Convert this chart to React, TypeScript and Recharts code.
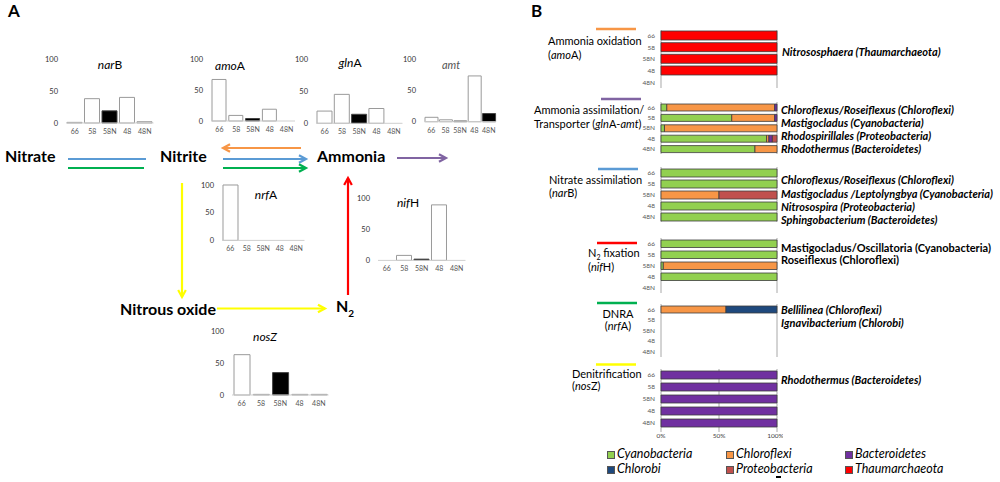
import React from 'react'
import { BarChart, Bar, XAxis, YAxis, CartesianGrid, Cell } from 'recharts'

const FONT = 'Lato, "Open Sans", sans-serif'

// sample sites
const samples = ['66', '58', '58N', '48', '48N']

// panel A: relative gene abundance per site
const narB = [1, 38, 19, 40, 2]
const amoA = [67, 9, 4, 19, 0]
const glnA = [19, 45, 14, 23, 0]
const amt = [7, 3, 1, 73, 13]
const nrfA = [100, 0, 0, 0, 0]
const nifH = [0, 8, 2, 89, 0]
const nosZ = [63, 1, 35, 1, 1]

// panel B: taxonomic composition (%), stacked left to right
const taxa = ['Cyanobacteria', 'Chloroflexi', 'Bacteroidetes', 'Chlorobi', 'Proteobacteria', 'Thaumarchaeota']
const taxaColors = ['#92D050', '#F79646', '#7030A0', '#1F497D', '#C0504D', '#FF0000']

const amoAThaum = [100, 100, 100, 100, 0]

const glnCyano = [5, 61, 3, 91, 81]
const glnChloro = [93, 37, 97, 2, 19]
const glnBactero = [2, 2, 0, 3, 0]
const glnProteo = [0, 0, 0, 4, 0]

const narCyano = [100, 100, 0, 100, 100]
const narChloro = [0, 0, 50, 0, 0]
const narProteo = [0, 0, 50, 0, 0]

const nifCyano = [100, 100, 2, 100, 0]
const nifChloro = [0, 0, 98, 0, 0]

const nrfChloro = [56, 0, 0, 0, 0]
const nrfChlorobi = [44, 0, 0, 0, 0]

const nosBactero = [100, 100, 100, 100, 100]

const zero = [0, 0, 0, 0, 0]

const makeRows = (cols: Record<string, number[]>) =>
  samples.map((s, i) => {
    const row: any = { sample: s }
    taxa.forEach((t) => { row[t] = (cols[t] || zero)[i] })
    return row
  })

const amoRows = makeRows({ Thaumarchaeota: amoAThaum })
const glnRows = makeRows({ Cyanobacteria: glnCyano, Chloroflexi: glnChloro, Bacteroidetes: glnBactero, Proteobacteria: glnProteo })
const narRows = makeRows({ Cyanobacteria: narCyano, Chloroflexi: narChloro, Proteobacteria: narProteo })
const nifRows = makeRows({ Cyanobacteria: nifCyano, Chloroflexi: nifChloro })
const nrfRows = makeRows({ Chloroflexi: nrfChloro, Chlorobi: nrfChlorobi })
const nosRows = makeRows({ Bacteroidetes: nosBactero })

const Txt = ({ x, y, size = 11, bold = false, italic = false, color = '#000', align = 'left', children }: any) => (
  <div
    style={{
      position: 'absolute',
      left: x,
      top: y,
      transform: `translate(${align === 'center' ? '-50%' : align === 'right' ? '-100%' : '0'}, -50%)`,
      fontSize: size,
      fontWeight: bold ? 700 : 400,
      fontStyle: italic ? 'italic' : 'normal',
      color,
      whiteSpace: 'nowrap',
      lineHeight: 1.1,
      fontFamily: FONT,
    }}
  >
    {children}
  </div>
)

const MiniChart = ({ values, dark, x0, x1, yTop, yBase, barSize }: any) => {
  const ml = 30, mt = 6, mb = 16, mr = 2
  const data = samples.map((s, i) => ({ sample: s, value: values[i] }))
  return (
    <div style={{ position: 'absolute', left: x0 - ml, top: yTop - mt }}>
      <BarChart
        width={ml + x1 - x0 + mr}
        height={mt + yBase - yTop + mb}
        data={data}
        margin={{ top: mt, right: mr, bottom: 0, left: 0 }}
        barCategoryGap={0}
      >
        <XAxis
          dataKey="sample"
          height={mb}
          interval={0}
          tickLine={false}
          tickMargin={0}
          axisLine={{ stroke: '#cfcfcf' }}
          tick={{ fontSize: 7, fill: '#555', fontFamily: FONT }}
        />
        <YAxis
          width={ml}
          domain={[0, 100]}
          ticks={[0, 50, 100]}
          axisLine={false}
          tickLine={false}
          tick={{ fontSize: 7.5, fill: '#333', fontFamily: FONT }}
        />
        <Bar dataKey="value" barSize={barSize} stroke="#9a9a9a" strokeWidth={1} isAnimationActive={false}>
          {data.map((d) => (
            <Cell key={d.sample} fill={dark.includes(d.sample) ? '#000' : '#fff'} stroke={dark.includes(d.sample) ? '#444' : '#9a9a9a'} />
          ))}
        </Bar>
      </BarChart>
    </div>
  )
}

const GroupChart = ({ rows, top, bottom, barSize, showAxis = false }: any) => {
  const yw = 22
  const xh = showAxis ? 14 : 0
  return (
    <div style={{ position: 'absolute', left: 661 - yw, top }}>
      <BarChart
        layout="vertical"
        width={yw + 116 + 6}
        height={bottom - top + xh}
        data={rows}
        margin={{ top: 0, right: 6, bottom: 0, left: 0 }}
        barCategoryGap={0}
      >
        <CartesianGrid horizontal={false} stroke="#a8a8a8" />
        <XAxis
          type="number"
          domain={[0, 100]}
          ticks={[0, 50, 100]}
          height={xh}
          axisLine={false}
          tickLine={showAxis ? { stroke: '#a8a8a8' } : false}
          tickSize={3}
          tickMargin={1}
          tick={showAxis ? { fontSize: 6.5, fill: '#444', fontFamily: FONT } : false}
          tickFormatter={(v: number) => `${v}%`}
        />
        <YAxis
          type="category"
          dataKey="sample"
          width={yw}
          interval={0}
          axisLine={false}
          tickLine={false}
          tickMargin={0}
          tick={{ fontSize: 6.5, fill: '#555', fontFamily: FONT }}
        />
        {taxa.map((t, i) => (
          <Bar
            key={t}
            dataKey={t}
            stackId="a"
            fill={taxaColors[i]}
            stroke="#3c3c3c"
            strokeWidth={0.8}
            barSize={barSize}
            isAnimationActive={false}
          />
        ))}
      </BarChart>
    </div>
  )
}

const Arrow = ({ x1, y1, x2, y2, color, head = true }: any) => {
  const ang = Math.atan2(y2 - y1, x2 - x1)
  const L = 8
  const a1 = ang + Math.PI - 0.5
  const a2 = ang + Math.PI + 0.5
  return (
    <g stroke={color} strokeWidth={2.2} fill="none">
      <line x1={x1} y1={y1} x2={x2} y2={y2} />
      {head && (
        <polyline
          points={`${x2 + L * Math.cos(a1)},${y2 + L * Math.sin(a1)} ${x2},${y2} ${x2 + L * Math.cos(a2)},${y2 + L * Math.sin(a2)}`}
        />
      )}
    </g>
  )
}

const App = () => {
  const legendPos = [
    [607, 454], [726, 454], [845, 454],
    [607, 469], [726, 469], [845, 469],
  ]
  const legendOrder = ['Cyanobacteria', 'Chloroflexi', 'Bacteroidetes', 'Chlorobi', 'Proteobacteria', 'Thaumarchaeota']
  return (
    <div style={{ position: 'fixed', left: 0, top: 0, width: 1000, height: 482, background: '#fff', overflow: 'hidden', fontFamily: FONT }}>
      <svg width={1000} height={482} style={{ position: 'absolute', left: 0, top: 0 }}>
        <Arrow x1={68} y1={159} x2={146} y2={159} color="#5B9BD5" head={false} />
        <Arrow x1={68} y1={168} x2={144} y2={168} color="#00B050" head={false} />
        <Arrow x1={301} y1={148} x2={223} y2={148} color="#F79646" />
        <Arrow x1={223} y1={159} x2={306} y2={159} color="#5B9BD5" />
        <Arrow x1={223} y1={168} x2={306} y2={168} color="#00B050" />
        <Arrow x1={397} y1={158} x2={446} y2={158} color="#8064A2" />
        <Arrow x1={182} y1={183} x2={182} y2={297} color="#FFFF00" />
        <Arrow x1={217} y1={308.5} x2={325} y2={308.5} color="#FFFF00" />
        <Arrow x1={348} y1={295} x2={348} y2={178} color="#FF0000" />
        {/* group markers in panel B */}
        <line x1={596} y1={29} x2={636} y2={29} stroke="#F79646" strokeWidth={2.5} />
        <line x1={601} y1={99} x2={641} y2={99} stroke="#8064A2" strokeWidth={2.5} />
        <line x1={598} y1={169} x2={638} y2={169} stroke="#5B9BD5" strokeWidth={2.5} />
        <line x1={597} y1={243} x2={637} y2={243} stroke="#FF0000" strokeWidth={2.5} />
        <line x1={597} y1={303} x2={637} y2={303} stroke="#00B050" strokeWidth={2.5} />
        <line x1={596} y1={364.5} x2={636} y2={364.5} stroke="#FFFF00" strokeWidth={2.5} />
      </svg>

      <Txt x={8} y={11} size={17} bold>A</Txt>
      <Txt x={531} y={11} size={17} bold>B</Txt>

      {/* panel A mini charts */}
      <MiniChart values={narB} dark={['58N']} x0={66} x1={153.5} yTop={58.7} yBase={122.7} barSize={15} />
      <MiniChart values={amoA} dark={['58N']} x0={210.5} x1={294.5} yTop={59} yBase={121} barSize={14} />
      <MiniChart values={glnA} dark={['58N']} x0={315.5} x1={402} yTop={59} yBase={123.3} barSize={15} />
      <MiniChart values={amt} dark={['58N', '48N']} x0={423.5} x1={495.5} yTop={59} yBase={121.7} barSize={13} />
      <MiniChart values={nrfA} dark={[]} x0={221.5} x1={304} yTop={185.3} yBase={240.7} barSize={15} />
      <MiniChart values={nifH} dark={['58N']} x0={378} x1={465.5} yTop={198.3} yBase={260.7} barSize={15} />
      <MiniChart values={nosZ} dark={['58N']} x0={231.5} x1={328} yTop={331} yBase={395} barSize={16} />

      <Txt x={110} y={65} size={12} align="center"><i>nar</i>B</Txt>
      <Txt x={230} y={66} size={12} align="center"><i>amo</i>A</Txt>
      <Txt x={350} y={63} size={12} align="center"><i>gln</i>A</Txt>
      <Txt x={451} y={65} size={11} align="center" color="#555"><i>amt</i></Txt>
      <Txt x={266} y={195} size={12} align="center"><i>nrf</i>A</Txt>
      <Txt x={408} y={203} size={12} align="center"><i>nif</i>H</Txt>
      <Txt x={265} y={337} size={12} align="center"><i>nosZ</i></Txt>

      <Txt x={5} y={156} size={16} bold>Nitrate</Txt>
      <Txt x={160} y={156} size={16} bold>Nitrite</Txt>
      <Txt x={317} y={156} size={16} bold>Ammonia</Txt>
      <Txt x={120} y={309} size={16} bold>Nitrous oxide</Txt>
      <Txt x={336} y={308} size={16} bold>N<sub style={{ fontSize: 10 }}>2</sub></Txt>

      {/* panel B group labels */}
      <Txt x={548} y={41} size={11}>Ammonia oxidation</Txt>
      <Txt x={548} y={54.5} size={11}>(<i>amo</i>A)</Txt>
      <Txt x={534} y={110} size={11}>Ammonia assimilation/</Txt>
      <Txt x={534} y={124} size={11}>Transporter (<i>gln</i>A-<i>amt</i>)</Txt>
      <Txt x={549} y={180} size={11}>Nitrate assimilation</Txt>
      <Txt x={549} y={193} size={11}>(<i>nar</i>B)</Txt>
      <Txt x={588} y={254} size={11}>N<sub style={{ fontSize: 7 }}>2</sub> fixation</Txt>
      <Txt x={588} y={267} size={11}>(<i>nif</i>H)</Txt>
      <Txt x={618} y={313.5} size={11} align="center">DNRA</Txt>
      <Txt x={618} y={326} size={11} align="center">(<i>nrf</i>A)</Txt>
      <Txt x={572} y={373.5} size={11}>Denitrification</Txt>
      <Txt x={572} y={386} size={11}>(<i>nos</i>Z)</Txt>

      <GroupChart rows={amoRows} top={29.7} bottom={88} barSize={9} />
      <GroupChart rows={glnRows} top={102} bottom={154} barSize={7} />
      <GroupChart rows={narRows} top={166.7} bottom={221.7} barSize={8} />
      <GroupChart rows={nifRows} top={238} bottom={293} barSize={7.5} />
      <GroupChart rows={nrfRows} top={304} bottom={357} barSize={7} />
      <GroupChart rows={nosRows} top={369} bottom={429} barSize={8} showAxis />

      {/* panel B taxon labels */}
      <Txt x={782} y={52} size={11} bold italic>Nitrososphaera (Thaumarchaeota)</Txt>
      <Txt x={781} y={109.5} size={11} bold italic>Chloroflexus/Roseiflexus (Chloroflexi)</Txt>
      <Txt x={781} y={122.5} size={11} bold italic>Mastigocladus (Cyanobacteria)</Txt>
      <Txt x={781} y={135.5} size={11} bold italic>Rhodospirillales (Proteobacteria)</Txt>
      <Txt x={781} y={149} size={11} bold italic>Rhodothermus (Bacteroidetes)</Txt>
      <Txt x={781} y={180} size={11} bold italic>Chloroflexus/Roseiflexus (Chloroflexi)</Txt>
      <Txt x={781} y={193.5} size={11} bold italic>Mastigocladus /Leptolyngbya (Cyanobacteria)</Txt>
      <Txt x={781} y={206.5} size={11} bold italic>Nitrosospira (Proteobacteria)</Txt>
      <Txt x={781} y={220} size={11} bold italic>Sphingobacterium (Bacteroidetes)</Txt>
      <Txt x={781} y={248} size={11} bold>Mastigocladus/Oscillatoria (Cyanobacteria)</Txt>
      <Txt x={781} y={260} size={11} bold>Roseiflexus (Chloroflexi)</Txt>
      <Txt x={781} y={309.5} size={11} bold italic>Bellilinea (Chloroflexi)</Txt>
      <Txt x={781} y={323} size={11} bold italic>Ignavibacterium (Chlorobi)</Txt>
      <Txt x={781} y={380} size={11} bold italic>Rhodothermus (Bacteroidetes)</Txt>

      {/* legend */}
      {legendOrder.map((t, i) => (
        <React.Fragment key={t}>
          <div
            style={{
              position: 'absolute',
              left: legendPos[i][0],
              top: legendPos[i][1] - 3.5,
              width: 6,
              height: 6,
              background: taxaColors[taxa.indexOf(t)],
              border: '0.8px solid #555',
            }}
          />
          <Txt x={legendPos[i][0] + 10} y={legendPos[i][1]} size={12.5} italic>{t}</Txt>
        </React.Fragment>
      ))}
      <div style={{ position: 'absolute', left: 776, top: 476, width: 5, height: 2, background: '#000' }} />
    </div>
  )
}

export default App
